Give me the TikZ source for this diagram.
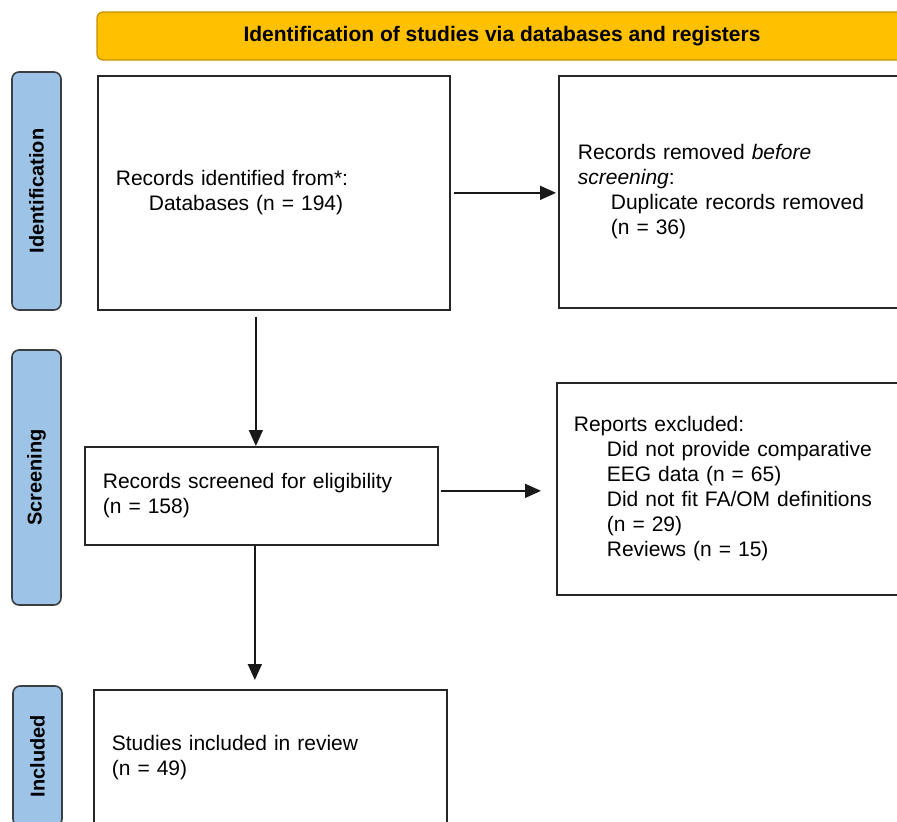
\documentclass[tikz,border=0pt]{standalone}
\usepackage{fontspec}
\setmainfont{Liberation Sans}
\usetikzlibrary{arrows.meta}
\definecolor{bannerfill}{HTML}{FFC000}
\definecolor{bannerdraw}{HTML}{C09000}
\definecolor{phasefill}{HTML}{9DC3E6}
\definecolor{phasedraw}{HTML}{3B3F44}

\begin{document}
\begin{tikzpicture}[
  x=1pt, y=-1pt,
  >={Triangle[length=16pt,width=14pt]},
  every node/.style={font=\fontsize{21}{25}\selectfont},
  banner/.style={draw=bannerdraw, line width=1.2pt, fill=bannerfill, rounded corners=6pt, minimum width=810pt, minimum height=48pt, font=\fontsize{21}{25}\selectfont\bfseries},
  phase/.style={draw=phasedraw, line width=1.6pt, rounded corners=7pt, fill=phasefill, rotate=90, minimum height=49pt, inner sep=0pt, font=\fontsize{20}{24}\selectfont\bfseries},
  rec/.style={draw=black!85, line width=1.7pt, align=left, inner ysep=4pt, anchor=north west},
  arr/.style={->, line width=1.7pt, black!90}
]
\useasboundingbox (0,0) rectangle (897,822);
\clip (0,0) rectangle (897,822);

% header and phase labels
\node[banner] (title) at (502,36) {Identification of studies via databases and registers};
\node[phase, minimum width=238pt] (idph) at (36.5,191) {Identification};
\node[phase, minimum width=255pt] (scph) at (36.5,477.5) {Screening};
\node[phase, minimum width=140pt] (inph) at (37.5,756) {Included};

% records
\node[rec, text width=316pt, inner xsep=18pt, minimum height=234pt] (ident) at (97,75) {Records identified from*:\\\hspace*{33pt}Databases (n = 194)};
\node[rec, text width=309pt, inner xsep=19pt, minimum height=232pt] (removed) at (558,75) {Records removed \textit{before}\\\textit{screening}:\\\hspace*{33pt}Duplicate records removed\\\hspace*{33pt}(n = 36)};
\node[rec, text width=317pt, inner xsep=18pt, minimum height=98pt] (screened) at (84,446) {Records screened for eligibility\\(n = 158)};
\node[rec, text width=315pt, inner xsep=17pt, minimum height=212pt] (excluded) at (556,382) {Reports excluded:\\\hspace*{33pt}Did not provide comparative\\\hspace*{33pt}EEG data (n = 65)\\\hspace*{33pt}Did not fit FA/OM definitions\\\hspace*{33pt}(n = 29)\\\hspace*{33pt}Reviews (n = 15)};
\node[rec, text width=317pt, inner xsep=18pt, minimum height=136pt] (included) at (93,689) {Studies included in review\\(n = 49)};

% flow
\draw[arr] ([xshift=3pt]ident.east) -- ([xshift=-2pt]ident.east -| removed.west);
\draw[arr] ([xshift=-18pt,yshift=-6pt]ident.south) -- ([xshift=-18pt]ident.south |- screened.north);
\draw[arr] ([xshift=2pt,yshift=5pt]screened.east) -- ([xshift=-15pt,yshift=5pt]screened.east -| excluded.west);
\draw[arr] ([xshift=-6.5pt]screened.south) -- ([xshift=-6.5pt,yshift=9pt]screened.south |- included.north);
\end{tikzpicture}
\end{document}
